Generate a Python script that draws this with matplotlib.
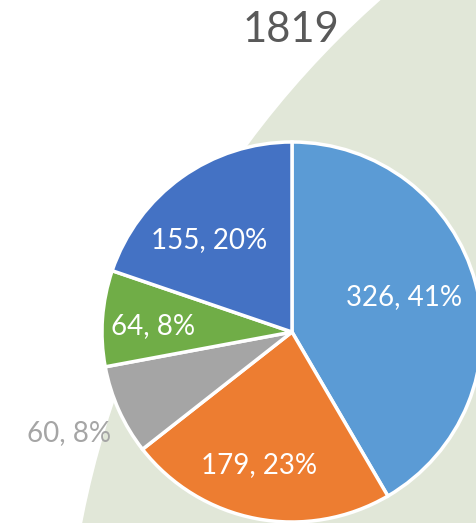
import numpy as np
import matplotlib
matplotlib.use('Agg')
import matplotlib.pyplot as plt
from matplotlib.patches import Circle

# Data
TITLE = '1819'
VALUES = [326, 179, 60, 64, 155]
PERCENTS = [41, 23, 8, 8, 20]
COLORS = ['#5B9BD5', '#ED7D31', '#A5A5A5', '#70AD47', '#4472C4']
LABEL_COLORS = ['white', 'white', '#A5A5A5', 'white', 'white']
# label placement: radial fraction of radius and angular nudge (deg)
LABEL_DIST = [0.62, 0.72, 1.29, 0.73, 0.65]
LABEL_SHIFT = [2.0, -3.0, 0.0, 1.6, 6.4]

W, H = 477, 523
plt.rcParams['font.family'] = ['Lato', 'DejaVu Sans']


def main():
    fig = plt.figure(figsize=(W / 100, H / 100), dpi=100)
    ax = fig.add_axes([0, 0, 1, 1])

    # big pale backdrop shape on the right
    ax.add_patch(Circle((1000, H - 700), 934, color='#E1E7D8', zorder=0))

    cx, cy, r = 292, H - 332, 190
    wedges, _ = ax.pie(VALUES, colors=COLORS, startangle=90, counterclock=False,
                       center=(cx, cy), radius=r, frame=True,
                       wedgeprops=dict(edgecolor='white', linewidth=2.5))
    ax.set_xlim(0, W)
    ax.set_ylim(0, H)
    ax.set_aspect('equal')
    ax.axis('off')

    for w, v, p, d, s, c in zip(wedges, VALUES, PERCENTS, LABEL_DIST,
                                LABEL_SHIFT, LABEL_COLORS):
        ang = np.deg2rad((w.theta1 + w.theta2) / 2 + s)
        x = cx + d * r * np.cos(ang)
        y = cy + d * r * np.sin(ang)
        ax.text(x, y, '%d, %d%%' % (v, p),
                ha='center', va='center', fontsize=20, color=c)

    ax.text(291, H - 30, TITLE, ha='center', va='center', fontsize=30,
            color='#595959')

    fig.savefig('out.png', dpi=100)


if __name__ == '__main__':
    main()
